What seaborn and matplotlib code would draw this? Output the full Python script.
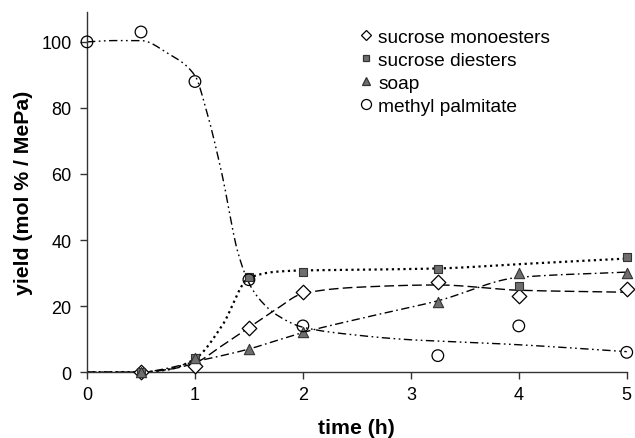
import numpy as np
import pandas as pd
import matplotlib
matplotlib.use("Agg")
import matplotlib.pyplot as plt
from matplotlib.lines import Line2D
import seaborn as sns

# measured points
t_mepa = [0, 0.5, 1, 1.5, 2, 3.25, 4, 5]
mepa = [100, 103, 88, 28, 14, 5, 14, 6]
t_s = [0.5, 1, 1.5, 2, 3.25, 4, 5]
mono = [0, 2, 13.3, 24.3, 27.2, 23.1, 25.2]
di = [0, 4.2, 28.9, 30.3, 31.2, 26.2, 35]
soap = [0, 4.2, 7, 12.2, 21.2, 30, 30]

# fitted trend curves
fit_t_mepa = [0, 0.25, 0.5, 0.75, 1, 1.1, 1.25, 1.4, 1.5, 1.6, 1.75, 2, 2.5, 3, 3.5, 4, 4.5, 5]
fit_mepa = [100, 100.4, 100.4, 96.5, 89.8, 80, 60, 36, 27, 22, 17.5, 13.6, 11.2, 9.8, 9.1, 8.3, 7.3, 6.2]
fit_t = [0, 0.5, 0.75, 1, 1.25, 1.5, 1.75, 2, 2.5, 3.25, 4, 5]
fit_di = [0, 0, 0.8, 4, 14, 28.5, 30.4, 30.8, 31.0, 31.4, 32.7, 34.4]
fit_mono = [0, 0, 0.8, 2.8, 8, 13.5, 19, 23.8, 25.7, 26.4, 24.8, 24.2]
fit_soap = [0, 0, 1.2, 3.2, 5, 7, 9.5, 12, 16, 21.6, 28.7, 30.3]

labels = ["sucrose monoesters", "sucrose diesters", "soap", "methyl palmitate"]


def pchip(x, y, xn):
    x = np.asarray(x, float); y = np.asarray(y, float)
    h = np.diff(x); d = np.diff(y) / h
    m = np.zeros_like(y)
    for k in range(1, len(x) - 1):
        if d[k - 1] * d[k] > 0:
            w1 = 2 * h[k] + h[k - 1]; w2 = h[k] + 2 * h[k - 1]
            m[k] = (w1 + w2) / (w1 / d[k - 1] + w2 / d[k])
    m[0] = d[0]; m[-1] = d[-1]
    idx = np.clip(np.searchsorted(x, xn) - 1, 0, len(x) - 2)
    hh = h[idx]; s = (xn - x[idx]) / hh
    h00 = 2 * s**3 - 3 * s**2 + 1; h10 = s**3 - 2 * s**2 + s
    h01 = -2 * s**3 + 3 * s**2; h11 = s**3 - s**2
    return h00 * y[idx] + h10 * hh * m[idx] + h01 * y[idx + 1] + h11 * hh * m[idx + 1]


plt.rcParams['font.family'] = ['Liberation Sans', 'DejaVu Sans']
fig = plt.figure(figsize=(6.35, 4.39), dpi=100)
ax = fig.add_axes([0.137, 0.150, 0.850, 0.820])

xs = np.linspace(0, 5, 400)
curves = [
    (fit_t, fit_mono, (0, (7, 3))),
    (fit_t, fit_di, (0, (1, 1.6))),
    (fit_t, fit_soap, (0, (6, 2.5, 1.2, 2.5))),
    (fit_t_mepa, fit_mepa, (0, (6, 2.5, 1.2, 2.5, 1.2, 2.5))),
]
for (ft, fv, ls), lab in zip(curves, labels):
    df = pd.DataFrame({"t": xs, "v": pchip(ft, fv, xs)})
    lw = 1.6 if lab == "sucrose diesters" else 1.0
    sns.lineplot(data=df, x="t", y="v", ax=ax, color="black", lw=lw,
                 linestyle=ls, legend=False)

gray = "#6e6e6e"
styles = {
    "sucrose monoesters": dict(marker="D", s=55, facecolor="white", edgecolor="black", linewidth=0.9),
    "sucrose diesters": dict(marker="s", s=40, facecolor=gray, edgecolor="#333333", linewidth=0.8),
    "soap": dict(marker="^", s=55, facecolor=gray, edgecolor="#333333", linewidth=0.8),
    "methyl palmitate": dict(marker="o", s=70, facecolor="none", edgecolor="black", linewidth=0.9),
}
pts = {"sucrose monoesters": (t_s, mono), "sucrose diesters": (t_s, di),
       "soap": (t_s, soap), "methyl palmitate": (t_mepa, mepa)}
for lab in labels:
    tt, vv = pts[lab]
    df = pd.DataFrame({"t": tt, "v": vv})
    sns.scatterplot(data=df, x="t", y="v", ax=ax, clip_on=False, zorder=3,
                    legend=False, **styles[lab])

ax.set_xlim(0, 5)
ax.set_ylim(0, 109)
ax.set_xticks([0, 1, 2, 3, 4, 5])
ax.set_yticks([0, 20, 40, 60, 80, 100])
for sp in ["top", "right"]:
    ax.spines[sp].set_visible(False)
for sp in ["left", "bottom"]:
    ax.spines[sp].set_color("#333333")
    ax.spines[sp].set_linewidth(1.0)
ax.tick_params(axis="both", labelsize=13, length=5, color="#333333", width=1.0)
ax.tick_params(axis="y", pad=6)
ax.tick_params(axis="x", pad=5)
ax.set_xlabel("time (h)", fontsize=15.3, fontweight="bold", labelpad=11)
ax.set_ylabel("yield (mol % / MePa)", fontsize=15.3, fontweight="bold", labelpad=6)

handles = []
for lab in labels:
    st = styles[lab]
    ms = {"D": 6, "s": 5.5, "^": 6.5, "o": 8}[st["marker"]]
    handles.append(Line2D([], [], linestyle="none", marker=st["marker"], markersize=ms * 0.9,
                          markerfacecolor=st["facecolor"], markeredgecolor=st["edgecolor"],
                          markeredgewidth=0.9))
ax.legend(handles, labels, loc="upper left", bbox_to_anchor=(0.49, 0.977), frameon=False,
          fontsize=13.8, handlelength=0.7, handletextpad=0.3, labelspacing=0.3,
          borderaxespad=0.0)

fig.savefig("out.png", dpi=100)
